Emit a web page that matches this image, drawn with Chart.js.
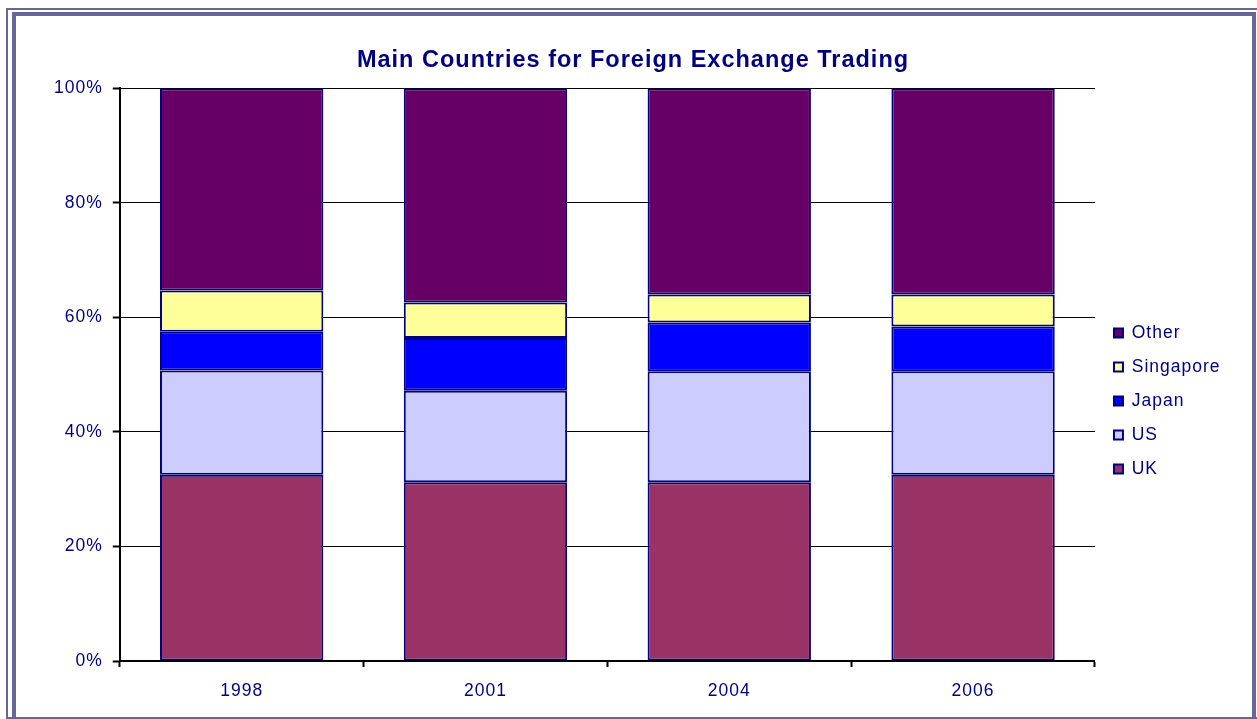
<!DOCTYPE html>
<html>
<head>
<meta charset="utf-8">
<title>Main Countries for Foreign Exchange Trading</title>
<script src="https://cdn.jsdelivr.net/npm/chart.js@4.4.1/dist/chart.umd.min.js"></script>
<style>
    html, body { margin: 0; padding: 0; background: #ffffff; }
    #wrap { position: relative; width: 1257px; height: 719px; overflow: hidden; }
    #chart { position: absolute; left: 0; top: 0; }
    /* marco doble del grafico */
    .frameOuter { position: absolute; left: 6px; top: 8px; width: 1300px; height: 707px;
        border-left: 2px solid #666699; border-top: 2px solid #666699; border-bottom: 2px solid #666699;
        pointer-events: none; }
    .frameInner { position: absolute; left: 12px; top: 12px; width: 1236px; height: 760px;
        border: 4px solid #666699; pointer-events: none; }
</style>
</head>
<body>
<div id="wrap">
    <canvas id="chart" width="1257" height="719"></canvas>
    <div class="frameOuter"></div>
    <div class="frameInner"></div>
</div>
<script>
// Datos del grafico (porcentaje del volumen por pais)
const years = ['1998', '2001', '2004', '2006'];
const ukValues = [32.5, 31.2, 31.2, 32.5];
const usValues = [18.2, 16.0, 19.4, 18.1];
const japanValues = [6.8, 9.2, 8.5, 7.8];
const singaporeValues = [7.2, 6.2, 4.9, 5.6];
const otherValues = [35.3, 37.4, 36.0, 36.0];
const yTicks = [0, 20, 40, 60, 80, 100];

const navy = '#000080';
const fontFamily = "'Liberation Sans', Arial, sans-serif";

// Espaciado de letras como en el original
const spacingPlugin = {
    id: 'spacing',
    beforeLayout: function (chart) { chart.ctx.letterSpacing = '1px'; },
    beforeDraw: function (chart) { chart.ctx.letterSpacing = '1px'; }
};

// Ajustar posicion de leyenda y titulo
const boxNudge = {
    id: 'boxNudge',
    afterLayout: function (chart) {
        const lg = chart.legend;
        const dx = 2.5, dy = 26.5;
        lg.left += dx; lg.right += dx;
        lg.top += dy; lg.bottom += dy;

        const t = chart.titleBlock;
        const shift = 633 - (t.left + t.right) / 2;
        t.left += shift; t.right += shift;
    }
};

function serie(label, data, color) {
    return {
        label: label,
        data: data,
        backgroundColor: color,
        borderColor: navy,
        borderWidth: 2,
        borderSkipped: false,
        barPercentage: 0.67,
        categoryPercentage: 1
    };
}

const ctx = document.getElementById('chart').getContext('2d');
new Chart(ctx, {
    type: 'bar',
    data: {
        labels: years,
        datasets: [
            serie('UK', ukValues, '#993366'),
            serie('US', usValues, '#CCCCFF'),
            serie('Japan', japanValues, '#0000FF'),
            serie('Singapore', singaporeValues, '#FFFF99'),
            serie('Other', otherValues, '#660066')
        ]
    },
    options: {
        responsive: false,
        animation: false,
        layout: {
            padding: { left: 44, right: 29, top: 46, bottom: 3 }
        },
        plugins: {
            title: {
                display: true,
                text: 'Main Countries for Foreign Exchange Trading',
                color: navy,
                font: { family: fontFamily, size: 23.5, weight: 'bold' },
                padding: { top: 0, bottom: 14 }
            },
            legend: {
                position: 'right',
                reverse: true,
                fullSize: false,
                labels: {
                    color: navy,
                    font: { family: fontFamily, size: 17.5 },
                    boxWidth: 9,
                    boxHeight: 9,
                    padding: 16.5,
                    generateLabels: function (chart) {
                        const items = Chart.defaults.plugins.legend.labels.generateLabels(chart);
                        return items.map(item => Object.assign(item, { lineWidth: 2, strokeStyle: navy }));
                    }
                }
            },
            tooltip: { enabled: false }
        },
        scales: {
            x: {
                stacked: true,
                grid: {
                    offset: true,
                    drawOnChartArea: false,
                    drawTicks: true,
                    tickLength: 6,
                    tickColor: '#000000',
                    tickWidth: 2
                },
                border: { color: '#000000', width: 2 },
                ticks: {
                    color: navy,
                    padding: 14,
                    font: { family: fontFamily, size: 17.5 }
                }
            },
            y: {
                stacked: true,
                min: 0,
                max: 100,
                afterBuildTicks: function (axis) {
                    axis.ticks = yTicks.map(v => ({ value: v }));
                },
                grid: {
                    color: '#000000',
                    lineWidth: 1,
                    tickLength: 7,
                    tickColor: '#000000',
                    tickWidth: 2
                },
                border: { color: '#000000', width: 2 },
                ticks: {
                    color: navy,
                    padding: 10,
                    font: { family: fontFamily, size: 17.5 },
                    callback: function (value) {
                        return value + '%';
                    }
                }
            }
        }
    },
    plugins: [spacingPlugin, boxNudge]
});
</script>
</body>
</html>
